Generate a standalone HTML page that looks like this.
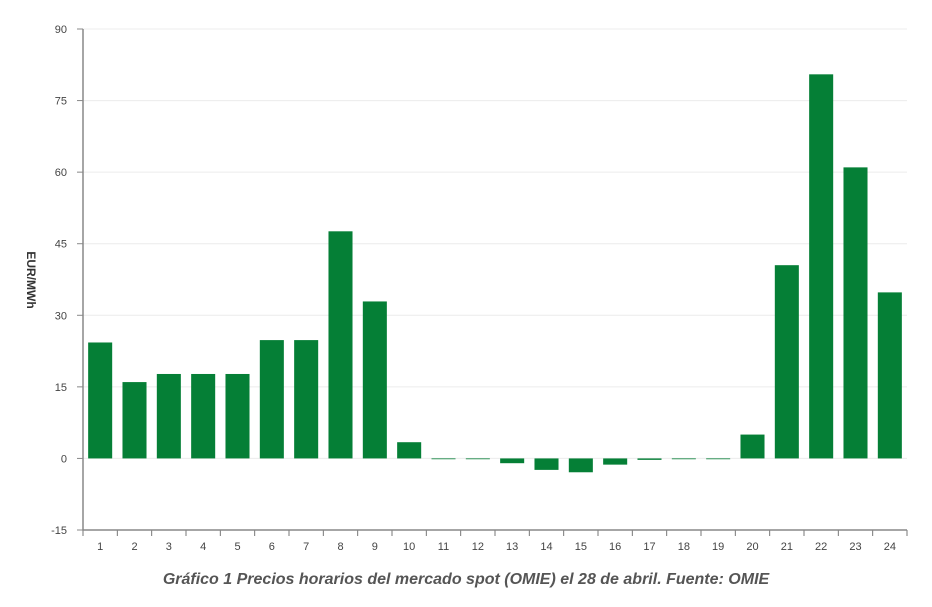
<!DOCTYPE html>
<html><head><meta charset="utf-8"><style>
body{margin:0;background:#fff;width:932px;height:602px;overflow:hidden;font-family:"Liberation Sans",sans-serif}
</style></head><body>
<svg id="chart" width="932" height="602" xmlns="http://www.w3.org/2000/svg"></svg>
<script>
const categories=["1","2","3","4","5","6","7","8","9","10","11","12","13","14","15","16","17","18","19","20","21","22","23","24"];
const prices=[24.3,16,17.7,17.7,17.7,24.8,24.8,47.6,32.9,3.4,0,0,-1,-2.4,-2.9,-1.3,-0.3,0,0,5,40.5,80.5,61,34.8];
const yTicks=[-15,0,15,30,45,60,75,90];
const svg=document.getElementById('chart');
const NS='http://www.w3.org/2000/svg';
const L=83,R=907,T=29,B=530,yMin=-15,yMax=90;
const y=v=>B-(v-yMin)/(yMax-yMin)*(B-T);
const bw=(R-L)/categories.length;
const x=i=>L+i*bw;
function mk(t,a){const e=document.createElementNS(NS,t);for(const k in a)e.setAttribute(k,a[k]);svg.appendChild(e);return e;}
yTicks.forEach(v=>{
  if(v>yMin){const g=mk('line',{x1:L,x2:R,y1:y(v),y2:y(v),stroke:'#ececec','stroke-width':1});
  
  }
  const tk=mk('line',{x1:L-6,x2:L,y1:y(v),y2:y(v),stroke:'#888'});
  
  
  const t=mk('text',{x:L-16,y:y(v)+4,'text-anchor':'end','font-size':11,fill:'#444'});
  t.textContent=v;
  
  
});
prices.forEach((v,i)=>{
  const top=Math.min(y(v),y(0)),h=Math.abs(y(v)-y(0));
  const r=mk('rect',{x:x(i)+bw*0.15,y:top,width:bw*0.7,height:Math.max(h,0.8),fill:'#057f36'});
  
  
});
categories.forEach((c,i)=>{
  const tk=mk('line',{x1:x(i),x2:x(i),y1:B,y2:B+6,stroke:'#777'});
  
  
  const t=mk('text',{x:x(i)+bw/2,y:B+20,'text-anchor':'middle','font-size':11,fill:'#444'});
  t.textContent=c;
  
  
});
const lt=mk('line',{x1:R,x2:R,y1:B,y2:B+6,stroke:'#777'});


const ax=mk('line',{x1:L,x2:L,y1:T,y2:B,stroke:'#888','stroke-width':1.5});


const bx=mk('line',{x1:L,x2:R,y1:B,y2:B,stroke:'#888','stroke-width':1.5});


const yt=mk('text',{x:0,y:0,transform:'translate(27,280) rotate(90)','text-anchor':'middle','font-size':12,'font-weight':'bold',fill:'#333'});
yt.textContent='EUR/MWh';


const cap=mk('text',{x:466,y:584,'text-anchor':'middle','font-size':16,'font-weight':'bold','font-style':'italic',fill:'#555'});
cap.textContent='Gráfico 1 Precios horarios del mercado spot (OMIE) el 28 de abril. Fuente: OMIE';


</script>
</body></html>
